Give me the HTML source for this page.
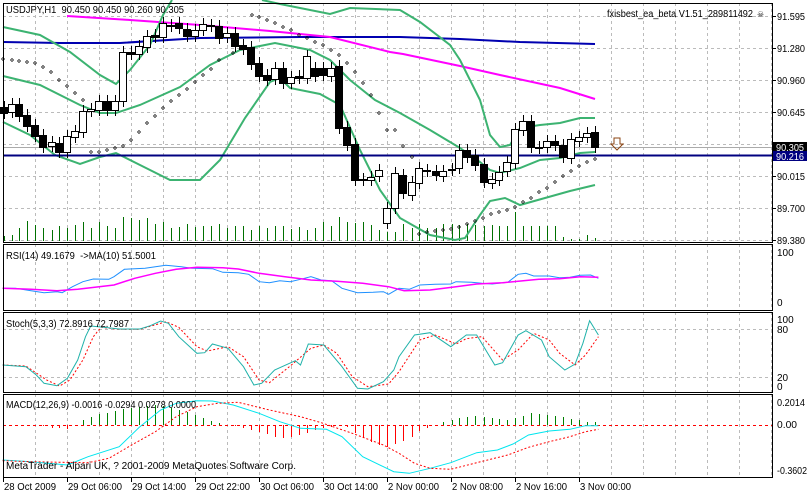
<!DOCTYPE html>
<html><head><meta charset="utf-8"><style>
html,body{margin:0;padding:0;background:#fff;width:809px;height:494px;overflow:hidden}
svg{display:block}
text{font-family:"Liberation Sans",sans-serif;font-size:10px;fill:#000}
</style></head><body>
<svg id="s" width="809" height="494" xmlns="http://www.w3.org/2000/svg"></svg>
<script>
var s=document.getElementById('s'),o='';
function L(x1,y1,x2,y2,c,w,d){o+='<line x1="'+x1+'" y1="'+y1+'" x2="'+x2+'" y2="'+y2+'" stroke="'+c+'" stroke-width="'+(w||1)+'"'+(d?' stroke-dasharray="'+d+'"':'')+'/>';}
function P(pts,c,w,d){o+='<polyline fill="none" points="'+pts.map(function(p){return p[0].toFixed(1)+','+p[1].toFixed(1)}).join(' ')+'" stroke="'+c+'" stroke-width="'+(w||1)+'"'+(d?' stroke-dasharray="'+d+'"':'')+'/>';}
function T(x,y,t,w,st){o+='<text x="'+x+'" y="'+y+'"'+(w?' textLength="'+w+'" lengthAdjust="spacingAndGlyphs"':'')+(st?' style="'+st+'"':'')+'>'+t+'</text>';}
function Z(a){return a.map(function(p){return [p[0]/1.93,240+p[1]/3]});}
var R=772;
var panels=[[3,242],[244,310],[312,392],[394,477]];
panels.forEach(function(p){for(var x=3;x<R;x+=32)L(x+0.5,p[0],x+0.5,p[1],'#bbb',1,'3,3');});
for(var y=16;y<=240;y+=32)L(3,y+0.5,R,y+0.5,'#bbb',1,'3,3');
L(3,329.5,R,329.5,'#bbb',1,'3,3');L(3,377.5,R,377.5,'#bbb',1,'3,3');
L(3,147.5,R,147.5,'#aaa',1);
var vx=[4,12,19,27,35,43,52,59,67,75,83,91,99,107,115,123,131,139,147,155,163,171,179,187,195,203,211,219,227,235,243,251,259,267,275,283,291,299,307,315,323,331,339,347,355,363,371,379,387,395,403,412,419,427,436,443,452,459,467,475,484,492,499,507,515,523,531,539,547,555,563,571,579,587,595];
var vh=[236,235,228,221,225,228,230,226,228,225,222,228,222,226,228,217,218,220,218,224,222,228,227,224,227,226,226,224,228,226,226,230,226,228,226,226,229,227,230,228,222,226,217,222,223,222,225,230,232,232,224,228,224,228,228,224,224,225,224,225,226,225,226,226,212,226,226,226,226,226,237,239,239,235,238];
vx.forEach(function(x,i){L(x+0.5,241,x+0.5,vh[i],'#007000',1);});
P([[3,42],[60,43],[120,43],[200,38],[300,37],[400,37],[460,39],[520,42],[595,44]],'#0000b0',2);
P([[67,16],[130,20],[200,25],[270,31],[330,37],[390,52],[403,54],[460,66],[500,75],[560,88],[595,99]],'#ff00ff',2);
var g='#3cb371';
P([[3,27],[40,35],[70,52],[100,75],[116,84],[130,70],[150,45],[163,15],[172,0]],g,2);
P([[262,0],[280,4],[330,14],[350,8],[400,10],[420,22],[450,45],[460,60],[480,100],[490,135],[500,147],[510,145],[520,128],[540,125],[560,123],[580,118],[595,118]],g,2);
P([[3,76],[40,85],[80,105],[100,113],[116,113],[140,105],[180,87],[210,65],[240,50],[275,43],[310,50],[330,60],[350,80],[375,100],[400,113],[430,130],[460,148],[480,162],[490,170],[500,173],[520,168],[540,160],[560,158],[580,153],[595,152]],g,2);
P([[3,122],[30,135],[55,155],[80,164],[100,157],[116,153],[140,165],[170,180],[200,180],[220,160],[245,118],[270,82],[280,78],[290,88],[320,94],[340,105],[360,150],[380,190],[400,218],[430,235],[455,240],[465,238],[480,215],[490,201],[505,198],[520,205],[545,198],[570,191],[595,185]],g,2);
L(3,155.5,R,155.5,'#000080',2);
var sar=[[3,59],[12,60],[19,61],[27,62],[35,63],[43,67],[51,72],[59,80],[67,86],[75,93],[83,100],[91,152],[99,152],[107,150],[115,148],[123,146],[131,140],[139,132],[147,123],[155,116],[163,108],[171,101],[179,95],[187,89],[195,82],[203,75],[211,69],[219,60],[233,53],[252,15],[259,17],[267,20],[275,23],[283,27],[291,30],[299,35],[307,38],[315,42],[323,45],[331,50],[339,55],[347,63],[355,72],[363,83],[371,95],[379,113],[387,130],[395,130],[403,146],[412,157],[419,234],[427,232],[435,231],[443,230],[451,229],[459,227],[467,224],[475,221],[483,218],[491,214],[499,212],[507,210],[515,207],[523,202],[531,198],[539,192],[547,188],[555,182],[563,176],[571,171],[579,166],[587,162],[595,159]];
sar.forEach(function(p){o+='<path d="M'+p[0]+','+(p[1]-1.5)+' l1.5,1.5 l-1.5,1.5 l-1.5,-1.5 z" fill="none" stroke="#000" stroke-width="0.7"/>';});
var C=[[4,107,113,0],[12,104,112,1],[19,104,116,0],[27,115,126,0],[35,125,136,0],[43,135,147,0],[52,142,146,1],[59,143,152,0],[67,136,152,1],[75,131,137,1],[83,111,132,1],[91,109,111,1],[99,101,110,1],[107,101,110,0],[115,101,110,1],[123,52,101,1],[131,52,54,0],[139,46,54,1],[147,36,47,1],[155,35,37,0],[163,23,37,1],[171,25,26,0],[179,23,28,0],[187,29,36,0],[195,30,36,1],[203,24,30,1],[211,25,26,0],[219,26,38,0],[227,33,37,1],[235,33,46,0],[243,45,49,0],[251,47,64,0],[259,63,76,0],[267,75,80,0],[275,68,79,1],[283,68,83,0],[291,77,83,1],[299,76,78,0],[307,56,78,1],[315,68,76,0],[323,68,75,0],[331,68,76,1],[339,66,128,0],[347,127,145,0],[355,144,180,0],[363,179,180,0],[371,177,180,1],[379,170,176,1],[387,208,223,1],[395,173,208,1],
[403,175,193,0],[412,182,195,1],[419,168,183,1],[427,170,171,0],[436,171,175,0],[443,171,176,1],[452,169,170,0],[459,150,168,1],[467,150,157,0],[475,155,165,0],[484,164,182,0],[492,179,183,1],[499,172,180,1],[507,162,171,1],[515,129,163,1],[523,121,130,1],[531,121,147,0],[539,147,148,0],[547,141,147,1],[555,141,145,0],[563,145,157,0],[571,139,158,1],[579,137,141,1],[587,133,137,1],[595,132,147,0]];
C.forEach(function(c){var x=c[0];L(x+0.5,c[1]-6,x+0.5,c[2]+6,'#000',1);
o+='<rect x="'+(x-3.5)+'" y="'+(c[1]+0.5)+'" width="7" height="'+Math.max(1,c[2]-c[1])+'" fill="'+(c[3]?'#fff':'#000')+'" stroke="#000"/>';});
o+='<path d="M614,138 h6 v6 h3 l-6,6 l-6,-6 h3 z" fill="none" stroke="#8b4513" stroke-width="1"/>';
P(Z([[5,145],[30,145],[60,152],[85,158],[110,155],[120,158],[140,140],[160,125],[180,117],[210,118],[220,110],[240,88],[280,85],[300,80],[320,76],[350,80],[370,85],[410,86],[430,97],[460,98],[480,103],[500,125],[520,128],[540,122],[560,125],[580,118],[600,110],[620,120],[640,122],[660,145],[690,158],[720,157],[740,155],[750,163],[770,145],[790,148],[810,135],[840,133],[870,132],[880,125],[910,127],[930,130],[950,132],[980,127],[1000,103],[1015,100],[1030,108],[1060,108],[1080,113],[1100,112],[1120,106],[1140,105],[1155,115]]),'#1e90ff',1);
P(Z([[5,145],[60,148],[110,152],[150,148],[220,135],[260,115],[300,100],[340,88],[380,82],[430,83],[460,87],[500,100],[550,110],[600,120],[650,124],[700,130],[750,140],[780,152],[830,150],[880,140],[920,132],[970,128],[1000,124],[1040,118],[1080,116],[1120,110],[1155,112]]),'#ff00ff',1.5);
P(Z([[5,375],[50,378],[90,420],[115,438],[135,420],[160,360],[180,290],[195,262],[230,268],[270,268],[310,250],[320,245],[345,262],[380,320],[400,333],[440,320],[470,350],[500,420],[520,428],[560,378],[600,325],[625,315],[650,340],[680,410],[710,440],[750,432],[770,395],[810,300],[840,285],[880,312],[900,296],[930,290],[970,360],[1000,330],[1030,280],[1060,300],[1080,340],[1110,375],[1130,345],[1155,290]]),'#ff0000',1,'2,2');
P(Z([[5,375],[50,380],[70,405],[85,430],[110,437],[130,415],[150,360],[165,290],[175,258],[200,262],[230,267],[270,267],[290,257],[310,243],[325,250],[345,290],[380,340],[395,338],[410,312],[440,325],[470,380],[490,435],[505,430],[530,390],[570,362],[580,375],[595,312],[625,315],[660,380],[690,445],[710,447],[740,425],[760,390],[770,350],[800,285],[830,278],[870,320],[900,285],[920,285],[955,375],[970,368],[1000,285],[1015,272],[1045,300],[1060,350],[1090,390],[1110,372],[1125,310],[1138,242],[1155,285]]),'#20b2aa',1);
L(3,425.5,R,425.5,'#ff0000',1,'3,3');
var H=[0,0,0,0,0,-1,-3,-3,-4,0,5,8,11,12,14,16,17,18,19,20,19,17,15,13,10,7,4,2,0,-1,-3,-5,-7,-9,-12,-13,-12,-10,-8,-5,-3,-2,-1,-2,-8,-13,-17,-20,-22,-19,-16,-12,-6,-3,0,3,5,7,8,9,8,7,6,5,7,9,12,11,10,9,8,6,5,3,3];
vx.forEach(function(x,i){var h=H[i];if(h)L(x+0.5,425,x+0.5,425-h,h>0?'#008000':'#ff0000',1);});
P(Z([[5,660],[60,665],[130,675],[170,650],[230,620],[270,560],[310,510],[340,490],[380,482],[410,483],[450,495],[500,520],[540,545],[580,565],[630,568],[660,590],[700,650],[740,680],[760,695],[790,700],[830,685],[870,668],[920,638],[960,630],[990,612],[1020,585],[1060,573],[1100,568],[1130,557],[1155,557]]),'#00e5ee',1);
P(Z([[5,662],[60,665],[120,667],[170,668],[210,655],[260,610],[300,575],[340,530],[380,500],[420,490],[460,487],[520,510],[580,530],[620,548],[680,580],[740,615],[770,640],[800,670],[830,685],[870,688],[920,668],[980,645],[1020,622],[1060,605],[1100,590],[1130,575],[1155,568]]),'#ff0000',1,'2,2');
panels.forEach(function(p){o+='<rect x="3.5" y="'+(p[0]+0.5)+'" width="'+(R-3)+'" height="'+(p[1]-p[0])+'" fill="none" stroke="#000"/>';});
var pl=[[16,'91.595'],[48,'91.280'],[80,'90.960'],[112,'90.645'],[176,'90.015'],[208,'89.700'],[240,'89.380']];
pl.forEach(function(a){L(R,a[0]+0.5,R+4,a[0]+0.5,'#000');T(777,a[0]+4,a[1],28);});
o+='<rect x="773" y="142" width="34" height="10" fill="#000"/>';T(776,151,'90.305',28,'fill:#fff');
o+='<rect x="773" y="151" width="34" height="10" fill="#000080"/>';T(776,160,'90.216',28,'fill:#fff');
T(777,256,'100');T(777,306,'0');
T(777,323,'100');T(777,333,'80');T(777,381,'20');T(777,390,'0');
T(777,406,'0.2014',28);T(777,428,'0.00',20);T(777,474,'-0.3602',30);
T(6,13,'USDJPY,H1&#160;&#160;90.450 90.450 90.260 90.305',178);
T(607,17,'fxisbest_ea_beta V1.51_289811492',146);
T(757,17,'&#9760;',null,'font-size:8px');
T(6,259,'RSI(14) 49.1679&#160;&#160;-&gt;MA(10) 51.5001',150);
T(6,327,'Stoch(5,3,3) 72.8916 72.7987',123);
T(6,408,'MACD(12,26,9) -0.0016 -0.0294 0.0278 0.0000',190);
T(6,469,'MetaTrader - Alpari UK, ? 2001-2009 MetaQuotes Software Corp.',290);
var tl=['28 Oct 2009','29 Oct 06:00','29 Oct 14:00','29 Oct 22:00','30 Oct 06:00','30 Oct 14:00','2 Nov 00:00','2 Nov 08:00','2 Nov 16:00','3 Nov 00:00'];
var tw=[52,54,54,54,54,54,51,51,51,51];
tl.forEach(function(t,i){var x=3+64*i;L(x+0.5,477,x+0.5,482,'#000');T(x+1,490,t,tw[i]);});
s.innerHTML=o;
</script>
</body></html>
